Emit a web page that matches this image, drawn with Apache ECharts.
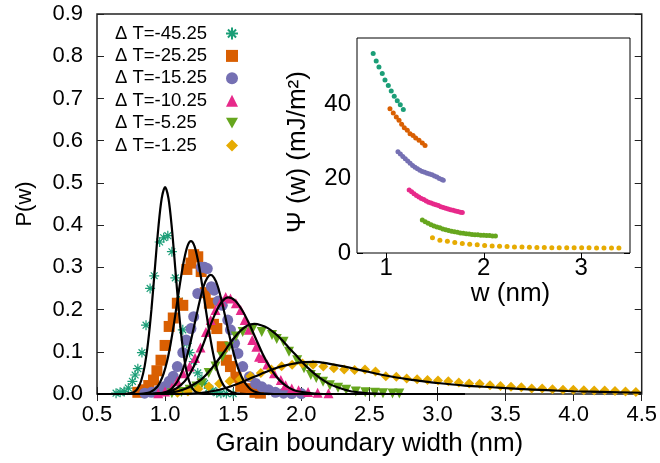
<!DOCTYPE html>
<html>
<head>
<meta charset="utf-8">
<script src="https://cdn.jsdelivr.net/npm/echarts@6/dist/echarts.min.js"></script>
<style>
  html, body { margin: 0; padding: 0; background: #fff; }
  #chart { width: 660px; height: 463px; }
</style>
</head>
<body>
<div id="chart"></div>
<script>
// Undercooling labels and Dark2 colours, one per run
const runNames = ['\u0394 T=-45.25', '\u0394 T=-25.25', '\u0394 T=-15.25', '\u0394 T=-10.25', '\u0394 T=-5.25', '\u0394 T=-1.25'];
const runColors = ['#1b9e77', '#d95f02', '#7570b3', '#e7298a', '#66a61e', '#e6ab02'];

// Main panel tick values
const xTicks = [0.5, 1.0, 1.5, 2.0, 2.5, 3.0, 3.5, 4.0, 4.5];
const yTicks = [0.0, 0.1, 0.2, 0.3, 0.4, 0.5, 0.6, 0.7, 0.8, 0.9];

// Width distributions P(w): [w (nm), P]
const pDT45 = [[0.64,0.002],[0.67,0.004],[0.70,0.006],[0.73,0.014],[0.76,0.030],[0.78,0.045],[0.80,0.060],[0.83,0.098],[0.86,0.163],[0.89,0.250],[0.92,0.280],[0.96,0.360],[0.99,0.370],[1.02,0.375],[1.05,0.337],[1.075,0.275],[1.105,0.220],[1.13,0.152],[1.16,0.120],[1.18,0.098],[1.21,0.077],[1.24,0.050],[1.27,0.035],[1.29,0.025],[1.32,0.014],[1.35,0.008],[1.38,0.003],[1.41,0.002],[1.45,0.001],[1.50,0.001]];
const pDT25 = [[0.80,0.004],[0.84,0.010],[0.88,0.020],[0.915,0.033],[0.94,0.055],[0.97,0.080],[1.00,0.115],[1.03,0.160],[1.06,0.180],[1.09,0.215],[1.13,0.210],[1.16,0.295],[1.19,0.310],[1.21,0.330],[1.24,0.325],[1.265,0.290],[1.295,0.240],[1.325,0.215],[1.355,0.165],[1.38,0.155],[1.42,0.112],[1.45,0.080],[1.48,0.065],[1.52,0.040],[1.555,0.018],[1.59,0.012],[1.62,0.012],[1.66,0.004],[1.70,0.002]];
const pDT15 = [[0.85,0.002],[0.90,0.004],[0.95,0.008],[1.00,0.018],[1.03,0.030],[1.06,0.042],[1.09,0.065],[1.13,0.098],[1.155,0.128],[1.19,0.155],[1.21,0.183],[1.24,0.238],[1.265,0.300],[1.29,0.300],[1.31,0.297],[1.34,0.254],[1.36,0.246],[1.39,0.220],[1.42,0.210],[1.46,0.175],[1.48,0.152],[1.51,0.120],[1.535,0.096],[1.57,0.065],[1.62,0.041],[1.665,0.025],[1.71,0.017],[1.76,0.010],[1.81,0.004],[1.87,0.002],[1.93,0.001],[2.00,0.001]];
const pDT10 = [[0.95,0.002],[1.00,0.006],[1.05,0.015],[1.09,0.030],[1.13,0.049],[1.18,0.065],[1.22,0.085],[1.26,0.110],[1.30,0.147],[1.335,0.175],[1.37,0.199],[1.41,0.219],[1.445,0.230],[1.48,0.226],[1.52,0.215],[1.555,0.199],[1.585,0.175],[1.615,0.152],[1.64,0.128],[1.67,0.112],[1.69,0.088],[1.715,0.085],[1.75,0.070],[1.80,0.049],[1.85,0.033],[1.885,0.021],[1.93,0.013],[1.98,0.009],[2.05,0.005],[2.12,0.003],[2.20,0.002]];
const pDT5 = [[1.05,0.002],[1.12,0.005],[1.18,0.010],[1.23,0.018],[1.27,0.025],[1.32,0.050],[1.37,0.065],[1.42,0.088],[1.47,0.112],[1.52,0.136],[1.57,0.147],[1.64,0.152],[1.71,0.147],[1.785,0.140],[1.82,0.130],[1.87,0.124],[1.91,0.100],[1.97,0.080],[2.02,0.061],[2.07,0.045],[2.11,0.038],[2.16,0.029],[2.21,0.021],[2.27,0.015],[2.33,0.010],[2.40,0.006],[2.47,0.004],[2.54,0.003],[2.60,0.002],[2.67,0.001],[2.72,0.001]];
const pDT1 = [[1.091,0.003],[1.168,0.006],[1.244,0.012],[1.321,0.018],[1.397,0.024],[1.474,0.030],[1.55,0.035],[1.627,0.042],[1.703,0.050],[1.78,0.058],[1.856,0.066],[1.933,0.069],[2.009,0.072],[2.086,0.069],[2.162,0.065],[2.239,0.061],[2.315,0.058],[2.392,0.057],[2.468,0.058],[2.545,0.053],[2.621,0.042],[2.698,0.041],[2.774,0.037],[2.851,0.035],[2.927,0.033],[3.004,0.032],[3.08,0.030],[3.157,0.027],[3.233,0.025],[3.31,0.024],[3.386,0.021],[3.463,0.019],[3.54,0.017],[3.616,0.016],[3.692,0.013],[3.769,0.013],[3.845,0.011],[3.922,0.010],[3.998,0.010],[4.075,0.009],[4.151,0.008],[4.228,0.008],[4.304,0.007],[4.381,0.006],[4.457,0.005]];

// Fitted curves (black lines)
const fitDT45 = [[0.5,0],[0.7,0],[0.75,0.002],[0.775,0.005],[0.8,0.014],[0.825,0.032],[0.85,0.066],[0.875,0.122],[0.9,0.201],[0.925,0.297],[0.95,0.392],[0.975,0.463],[1.0,0.49],[1.025,0.463],[1.05,0.392],[1.075,0.297],[1.1,0.201],[1.125,0.122],[1.15,0.066],[1.175,0.032],[1.2,0.014],[1.225,0.005],[1.25,0.002],[1.3,0],[3.2,0]];
const fitDT25 = [[0.5,0],[0.8,0],[0.84,0.001],[0.89,0.004],[0.94,0.016],[0.965,0.029],[0.99,0.049],[1.015,0.078],[1.04,0.118],[1.065,0.166],[1.09,0.220],[1.115,0.273],[1.14,0.319],[1.165,0.351],[1.19,0.362],[1.215,0.351],[1.24,0.319],[1.265,0.273],[1.29,0.220],[1.315,0.166],[1.34,0.118],[1.365,0.078],[1.39,0.049],[1.415,0.029],[1.44,0.016],[1.49,0.004],[1.54,0.001],[1.6,0],[3.2,0]];
const fitDT15 = [[0.5,0],[0.9,0],[0.935,0.001],[0.985,0.003],[1.035,0.009],[1.085,0.027],[1.11,0.042],[1.135,0.062],[1.16,0.089],[1.185,0.120],[1.21,0.156],[1.235,0.193],[1.26,0.228],[1.285,0.257],[1.31,0.275],[1.335,0.282],[1.36,0.275],[1.385,0.257],[1.41,0.228],[1.435,0.193],[1.46,0.156],[1.485,0.120],[1.51,0.089],[1.535,0.062],[1.56,0.042],[1.585,0.027],[1.635,0.009],[1.685,0.003],[1.735,0.001],[1.8,0],[3.2,0]];
const fitDT10 = [[0.5,0],[0.865,0],[0.965,0.002],[1.015,0.004],[1.065,0.010],[1.115,0.021],[1.165,0.039],[1.215,0.068],[1.265,0.105],[1.315,0.148],[1.365,0.188],[1.415,0.218],[1.465,0.229],[1.515,0.221],[1.565,0.199],[1.615,0.168],[1.665,0.132],[1.715,0.096],[1.765,0.066],[1.815,0.042],[1.865,0.025],[1.915,0.014],[1.965,0.007],[2.065,0.002],[2.165,0],[3.2,0]];
const fitDT5 = [[0.5,0],[0.9,0],[0.955,0.001],[1.055,0.004],[1.155,0.013],[1.255,0.032],[1.305,0.047],[1.355,0.066],[1.405,0.087],[1.455,0.110],[1.505,0.132],[1.555,0.150],[1.605,0.162],[1.655,0.166],[1.705,0.163],[1.755,0.156],[1.805,0.144],[1.855,0.129],[1.905,0.111],[1.955,0.094],[2.005,0.076],[2.055,0.060],[2.105,0.046],[2.155,0.034],[2.205,0.024],[2.255,0.017],[2.355,0.007],[2.455,0.003],[2.555,0.001],[2.65,0],[3.2,0]];
const fitDT1 = [[0.5,0],[1.1,0],[1.2,0.001],[1.3,0.004],[1.4,0.010],[1.5,0.020],[1.6,0.033],[1.7,0.047],[1.8,0.060],[1.9,0.069],[2.0,0.075],[2.1,0.076],[2.2,0.072],[2.3,0.066],[2.4,0.059],[2.5,0.052],[2.6,0.045],[2.7,0.039],[2.8,0.034],[2.9,0.030],[3.0,0.026],[3.2,0.020],[3.4,0.016],[3.6,0.012],[3.8,0.009],[4.0,0.0065],[4.2,0.005],[4.5,0.003]];

// Inset: boundary free energy Psi(w) in mJ/m^2 against w (nm)
const psiDT45 = [[0.866,53.8],[0.897,51.8],[0.925,50.2],[0.959,48.4],[0.987,46.7],[1.021,45.2],[1.051,43.7],[1.082,42.3],[1.113,41.1],[1.144,40.0],[1.175,38.7]];
const psiDT25 = [[1.038,38.9],[1.072,37.8],[1.103,36.7],[1.131,35.8],[1.158,34.7],[1.185,33.8],[1.216,33.1],[1.244,32.2],[1.275,31.7],[1.302,31.0],[1.336,30.4],[1.37,29.7],[1.398,29.0]];
const psiDT15 = [[1.12,27.3],[1.145,26.7],[1.17,26.0],[1.195,25.4],[1.22,24.8],[1.245,24.2],[1.27,23.6],[1.295,23.1],[1.32,22.7],[1.345,22.3],[1.37,22.0],[1.395,21.8],[1.42,21.5],[1.445,21.3],[1.47,21.1],[1.495,20.8],[1.52,20.5],[1.545,20.1],[1.57,19.8],[1.585,19.6]];
const psiDT10 = [[1.235,17.0],[1.26,16.5],[1.285,16.0],[1.31,15.5],[1.335,15.1],[1.36,14.7],[1.385,14.4],[1.41,14.0],[1.435,13.7],[1.46,13.5],[1.485,13.2],[1.51,13.0],[1.535,12.8],[1.56,12.5],[1.585,12.3],[1.61,12.1],[1.635,11.9],[1.66,11.7],[1.685,11.5],[1.71,11.3],[1.735,11.2],[1.76,11.0],[1.78,10.9]];
const psiDT5 = [[1.37,8.9],[1.40,8.4],[1.43,8.0],[1.46,7.6],[1.49,7.3],[1.52,7.0],[1.55,6.8],[1.58,6.5],[1.61,6.3],[1.64,6.1],[1.67,5.9],[1.70,5.7],[1.73,5.6],[1.76,5.4],[1.79,5.3],[1.82,5.2],[1.85,5.1],[1.88,5.0],[1.91,4.9],[1.94,4.9],[1.97,4.8],[2.00,4.8],[2.03,4.7],[2.06,4.7],[2.09,4.6],[2.12,4.6]];
const psiDT1 = [[1.474,4.1],[1.55,3.45],[1.627,3.2],[1.703,2.8],[1.78,2.55],[1.856,2.35],[1.933,2.2],[2.009,2.0],[2.086,1.9],[2.162,1.8],[2.239,1.75],[2.315,1.65],[2.392,1.6],[2.468,1.55],[2.545,1.5],[2.621,1.5],[2.698,1.45],[2.774,1.45],[2.851,1.45],[2.927,1.4],[3.004,1.4],[3.08,1.4],[3.157,1.35],[3.233,1.35],[3.31,1.35],[3.386,1.35]];
const insetXTicks = [1, 2, 3];
const insetYTicks = [0, 20, 40];

const FONT = '"Liberation Sans", Arial, Helvetica, sans-serif';
const INK = '#000';
const FRAME = '#222';

const pData = [pDT45, pDT25, pDT15, pDT10, pDT5, pDT1];
const fitData = [fitDT45, fitDT25, fitDT15, fitDT10, fitDT5, fitDT1];
const psiData = [psiDT45, psiDT25, psiDT15, psiDT10, psiDT5, psiDT1];

const markers = [
  { symbol: 'path://M0,5L10,5M5,0L5,10M1.6,1.6L8.4,8.4M8.4,1.6L1.6,8.4', size: 10, hollow: true },
  { symbol: 'rect', size: 11 },
  { symbol: 'circle', size: 11 },
  { symbol: 'triangle', size: 10 },
  { symbol: 'path://M0,0L10,0L5,9Z', size: 10 },
  { symbol: 'diamond', size: 10 }
];

const tickLabelStyle = { color: INK, fontFamily: FONT, fontSize: 22 };
const insetFont = 24;

const series = [];
pData.forEach((d, i) => {
  const m = markers[i];
  series.push({
    name: runNames[i],
    type: 'scatter',
    xAxisIndex: 0, yAxisIndex: 0,
    data: d,
    symbol: m.symbol,
    symbolSize: m.size,
    clip: false,
    itemStyle: m.hollow
      ? { color: 'rgba(0,0,0,0)', borderColor: runColors[i], borderWidth: 1.2, opacity: 1 }
      : { color: runColors[i], opacity: 1 },
    z: 2 + i * 0.01
  });
});
fitData.forEach((d, i) => {
  series.push({
    name: 'fit ' + runNames[i],
    type: 'line',
    xAxisIndex: 0, yAxisIndex: 0,
    data: d,
    showSymbol: false,
    smooth: 0.3,
    lineStyle: { color: '#000', width: 2.2 },
    silent: true,
    z: 3
  });
});
psiData.forEach((d, i) => {
  series.push({
    name: 'psi ' + runNames[i],
    type: 'scatter',
    xAxisIndex: 2, yAxisIndex: 2,
    data: d,
    symbol: 'circle',
    symbolSize: 5,
    itemStyle: { color: runColors[i], opacity: 1 },
    z: 6
  });
});

const option = {
  animation: false,
  backgroundColor: '#fff',
  grid: [
    { left: 97, top: 14, width: 548, height: 380, show: true, borderColor: FRAME, borderWidth: 1.5, backgroundColor: 'rgba(0,0,0,0)' },
    { left: 357, top: 38, width: 273, height: 215, show: true, borderColor: '#000', borderWidth: 1, backgroundColor: '#fff', z: 5 }
  ],
  legend: {
    orient: 'vertical',
    left: 110, top: 19,
    align: 'right',
    itemWidth: 12, itemHeight: 12, itemGap: 3.4,
    selectedMode: false,
    data: runNames,
    formatter: name => '{t|' + name + '}',
    textStyle: {
      color: INK, fontFamily: FONT, fontSize: 18.5,
      rich: { t: { width: 106, align: 'left', lineHeight: 18, fontSize: 18.5, fontFamily: FONT, color: INK } }
    }
  },
  xAxis: [
    {
      type: 'value', gridIndex: 0, min: xTicks[0], max: xTicks[xTicks.length - 1], interval: 0.5,
      axisLine: { show: false },
      axisTick: { inside: true, length: 7, lineStyle: { color: FRAME, width: 1 } },
      axisLabel: Object.assign({ margin: 10, formatter: v => v.toFixed(1) }, tickLabelStyle),
      splitLine: { show: false },
      name: 'Grain boundary width (nm)', nameLocation: 'middle', nameGap: 35,
      nameTextStyle: { color: INK, fontFamily: FONT, fontSize: 26 }
    },
    {
      type: 'value', gridIndex: 0, position: 'top', min: xTicks[0], max: xTicks[xTicks.length - 1], interval: 0.5,
      axisLine: { show: false },
      axisTick: { inside: true, length: 7, lineStyle: { color: FRAME, width: 1 } },
      axisLabel: { show: false }, splitLine: { show: false }
    },
    {
      type: 'value', gridIndex: 1, min: 0.7, max: 3.5,
      axisLine: { show: false },
      axisTick: { inside: true, length: 6, customValues: insetXTicks, lineStyle: { color: '#000', width: 1 } },
      axisLabel: { margin: 3, customValues: insetXTicks, color: INK, fontFamily: FONT, fontSize: insetFont },
      splitLine: { show: false },
      name: 'w (nm)', nameLocation: 'middle', nameGap: 27,
      nameTextStyle: { color: INK, fontFamily: FONT, fontSize: 26, padding: [0, 0, 0, 34] }
    },
    {
      type: 'value', gridIndex: 1, position: 'top', min: 0.7, max: 3.5,
      axisLine: { show: false },
      axisTick: { inside: true, length: 6, customValues: insetXTicks, lineStyle: { color: '#000', width: 1 } },
      axisLabel: { show: false }, splitLine: { show: false }
    }
  ],
  yAxis: [
    {
      type: 'value', gridIndex: 0, min: yTicks[0], max: yTicks[yTicks.length - 1], interval: 0.1,
      axisLine: { show: false },
      axisTick: { inside: true, length: 7, lineStyle: { color: FRAME, width: 1 } },
      axisLabel: Object.assign({ margin: 14, formatter: v => v.toFixed(1) }, tickLabelStyle),
      splitLine: { show: false },
      name: 'P(w)', nameLocation: 'middle', nameGap: 61,
      nameTextStyle: { color: INK, fontFamily: FONT, fontSize: 22 }
    },
    {
      type: 'value', gridIndex: 0, position: 'right', min: yTicks[0], max: yTicks[yTicks.length - 1], interval: 0.1,
      axisLine: { show: false },
      axisTick: { inside: true, length: 7, lineStyle: { color: FRAME, width: 1 } },
      axisLabel: { show: false }, splitLine: { show: false }
    },
    {
      type: 'value', gridIndex: 1, min: 0, max: 58,
      axisLine: { show: false },
      axisTick: { inside: true, length: 6, customValues: insetYTicks, lineStyle: { color: '#000', width: 1 } },
      axisLabel: { margin: 6, customValues: insetYTicks, color: INK, fontFamily: FONT, fontSize: insetFont },
      splitLine: { show: false },
      name: '\u03A8 (w) (mJ/m\u00B2)', nameLocation: 'middle', nameGap: 46,
      nameTextStyle: { color: INK, fontFamily: FONT, fontSize: 26, padding: [0, 13, 0, 0] }
    },
    {
      type: 'value', gridIndex: 1, position: 'right', min: 0, max: 58,
      axisLine: { show: false },
      axisTick: { inside: true, length: 6, customValues: insetYTicks, lineStyle: { color: '#000', width: 1 } },
      axisLabel: { show: false }, splitLine: { show: false }
    }
  ],
  series: series
};

const chart = echarts.init(document.getElementById('chart'), null, { renderer: 'canvas' });
chart.setOption(option);
</script>
</body>
</html>
